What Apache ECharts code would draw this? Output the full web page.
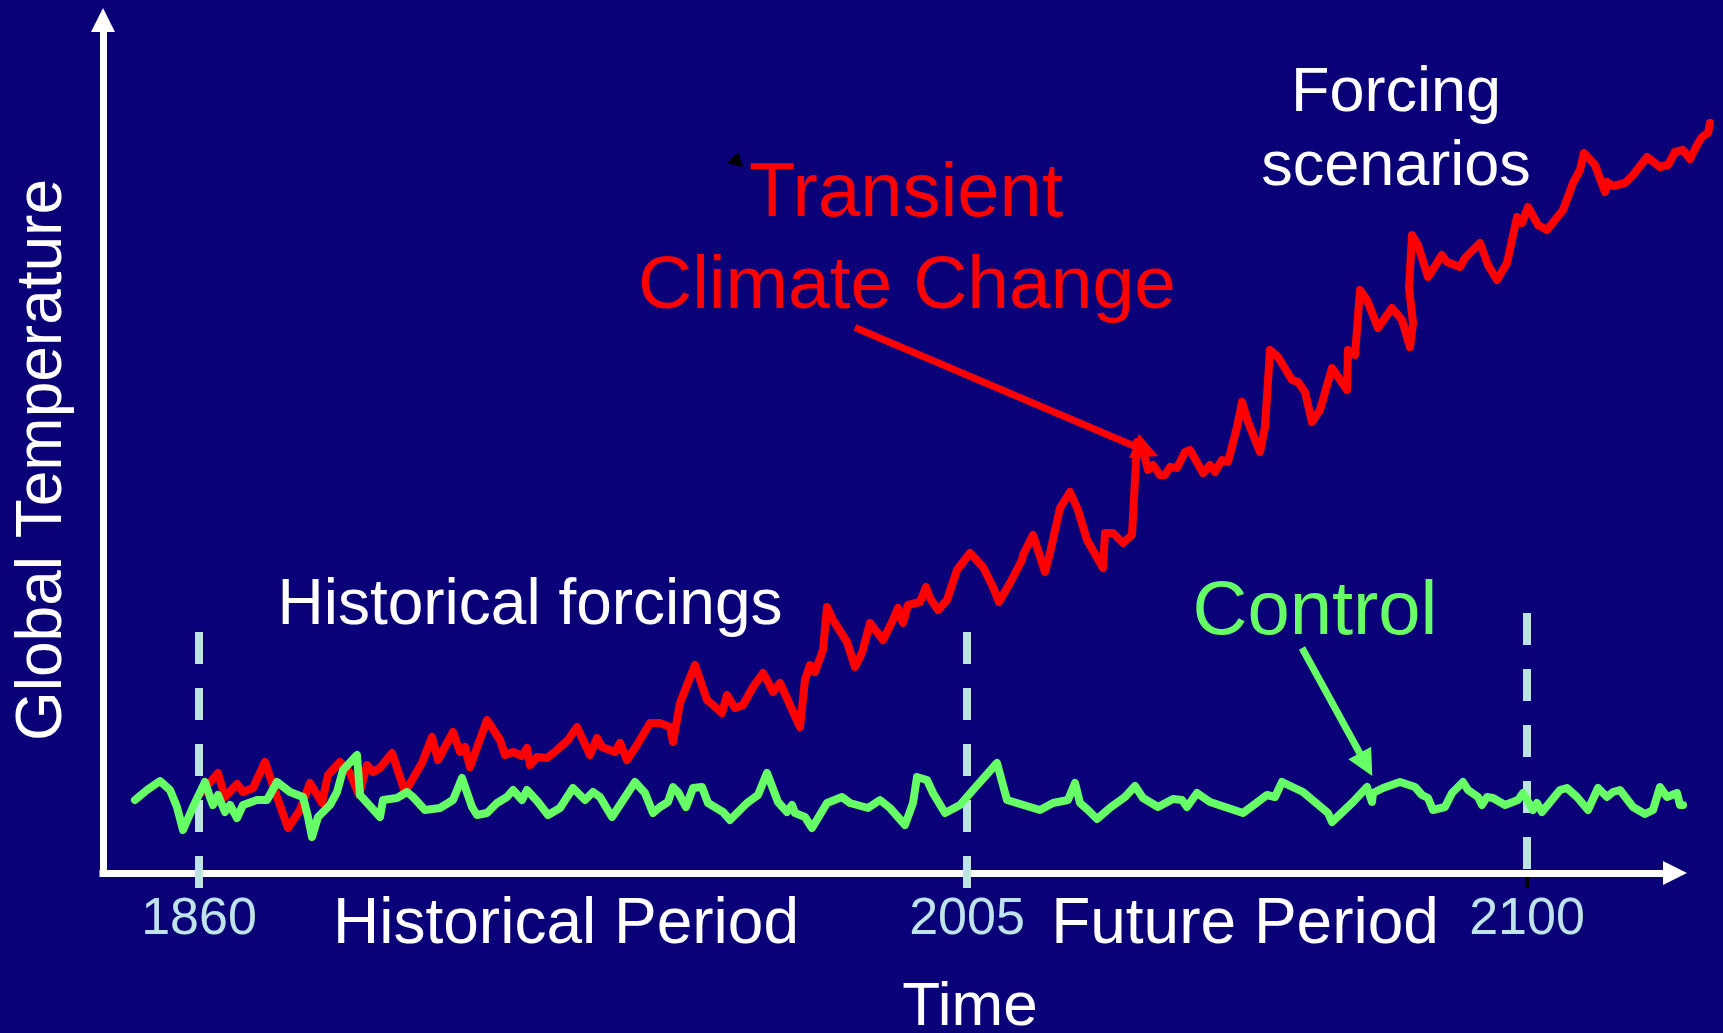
<!DOCTYPE html>
<html>
<head>
<meta charset="utf-8">
<script src="https://cdn.jsdelivr.net/npm/echarts@6/dist/echarts.min.js"></script>
<style>
  html, body { margin: 0; padding: 0; background: #0a0078; }
  #chart { width: 1723px; height: 1033px; }
</style>
</head>
<body>
<div id="chart"></div>
<script>
// time steps (arbitrary schematic units) and global temperature (arbitrary units)
var redTime = [98,115,122,134,140,150,162,174,185,197,207,219,225,237,247,256,264,270,277,289,
  302,319,329,335,350,357,362,367,384,397,402,410,419,424,427,434,444,454,465,474,
  487,494,499,512,517,524,534,547,557,567,570,577,592,604,610,619,624,632,640,650,
  660,665,670,677,697,702,707,712,720,724,730,744,752,759,767,780,789,795,800,805,
  817,823,827,835,844,854,867,880,890,896,907,919,920,930,942,947,957,967,975,984,
  1000,1002,1010,1020,1029,1034,1039,1045,1050,1057,1062,1067,1074,1082,1087,1100,1107,1112,1119,1125,
  1134,1139,1145,1157,1162,1167,1175,1189,1195,1202,1209,1217,1229,1244,1245,1252,1257,1264,1275,1289,
  1299,1307,1310,1306,1309,1315,1325,1339,1344,1357,1362,1377,1385,1394,1404,1414,1419,1425,1435,1444,
  1460,1470,1477,1481,1492,1502,1504,1510,1522,1530,1544,1557,1565,1572,1580,1587,1594,1599,1605,1607];
var redTemp = [0.80,1.00,0.76,0.89,0.81,0.85,1.11,0.76,0.45,0.63,0.90,0.70,0.98,1.11,1.00,0.78,1.08,1.01,1.05,1.20,
  0.81,1.10,1.36,1.13,1.41,1.21,1.26,1.06,1.53,1.33,1.18,1.21,1.17,1.25,1.08,1.16,1.15,1.23,1.33,1.46,
  1.18,1.35,1.26,1.21,1.30,1.13,1.28,1.50,1.50,1.46,1.31,1.70,2.08,1.73,1.68,1.60,1.78,1.65,1.68,1.86,
  2.00,1.91,1.81,1.90,1.46,1.93,2.08,2.01,2.23,2.66,2.53,2.31,2.06,2.20,2.50,2.33,2.51,2.65,2.50,2.68,
  2.71,2.86,2.75,2.63,2.73,3.03,3.20,3.06,2.86,2.71,2.90,3.13,3.18,3.38,3.01,3.20,3.65,3.81,3.63,3.33,
  3.05,3.40,3.40,3.30,3.38,4.31,4.26,4.03,4.08,3.98,3.98,4.06,4.05,4.21,4.23,4.00,4.08,4.01,4.13,4.11,
  4.46,4.71,4.51,4.21,4.46,5.23,5.16,4.93,4.91,4.81,4.51,4.63,5.05,4.83,5.23,5.18,5.83,5.73,5.45,5.65,
  5.53,5.26,5.50,5.85,6.38,6.28,5.96,6.18,6.11,6.06,6.15,6.30,6.08,5.93,6.10,6.56,6.50,6.66,6.48,6.43,
  6.63,6.90,7.03,7.20,7.08,6.81,6.91,6.87,6.90,6.98,7.16,7.06,7.08,7.21,7.23,7.14,7.28,7.36,7.40,7.50];

var greenTime = [32,44,57,67,74,80,90,102,107,110,115,122,127,134,140,154,164,174,187,200,
  205,209,215,227,234,240,254,257,277,280,294,304,310,322,337,350,359,369,374,384,
  394,404,410,419,424,435,445,457,470,482,490,497,509,532,542,550,557,565,570,575,
  583,590,599,605,620,627,644,655,664,675,684,689,692,702,709,724,739,747,765,777,
  787,802,810,814,824,830,842,857,870,894,904,927,937,950,965,972,977,985,994,1008,
  1022,1032,1040,1055,1070,1079,1084,1094,1107,1140,1164,1172,1179,1200,1225,1229,1250,1264,1269,1270,
  1280,1297,1312,1319,1325,1330,1342,1349,1360,1365,1375,1379,1384,1390,1402,1415,1420,1430,1434,1439,
  1457,1464,1474,1485,1495,1504,1510,1517,1530,1542,1550,1557,1564,1574,1577,1580];
var greenTemp = [0.73,0.83,0.92,0.83,0.66,0.43,0.66,0.91,0.76,0.68,0.78,0.61,0.68,0.55,0.68,0.73,0.73,0.91,0.81,0.76,
  0.56,0.36,0.56,0.68,0.81,1.03,1.18,0.78,0.56,0.73,0.75,0.81,0.76,0.63,0.65,0.73,0.95,0.66,0.58,0.60,
  0.70,0.76,0.83,0.73,0.83,0.71,0.58,0.65,0.85,0.73,0.81,0.76,0.56,0.91,0.80,0.60,0.66,0.71,0.86,0.81,
  0.66,0.85,0.86,0.70,0.61,0.53,0.70,0.78,1.00,0.71,0.61,0.68,0.60,0.56,0.45,0.70,0.76,0.70,0.65,0.73,
  0.65,0.48,0.70,0.96,0.93,0.80,0.60,0.68,0.83,1.10,0.73,0.66,0.63,0.70,0.73,0.90,0.70,0.63,0.54,0.66,
  0.76,0.87,0.75,0.66,0.74,0.73,0.66,0.80,0.71,0.60,0.78,0.76,0.91,0.81,0.60,0.51,0.71,0.86,0.71,0.80,
  0.85,0.91,0.86,0.78,0.75,0.63,0.66,0.80,0.91,0.83,0.76,0.68,0.76,0.75,0.68,0.73,0.80,0.63,0.70,0.61,
  0.83,0.85,0.76,0.63,0.85,0.76,0.81,0.83,0.66,0.59,0.63,0.86,0.76,0.80,0.68,0.68];

// period markers
var yearTicks = [96, 864, 1424];
var yearLabels = ['1860', '2005', '2100'];
var markerTop = [2.41, 2.41, 2.60];
var markerBottom = [-0.15, -0.15, 0.04];

// annotation arrows [from, to]
var redArrow = [[752, 5.455], [1043, 4.22]];
var greenArrow = [[1199, 2.25], [1263, 1.085]];

var FONT = '"Liberation Sans", Arial, sans-serif';

function pairs(xs, ys) {
  return xs.map(function (x, i) { return [x, ys[i]]; });
}

function label(text, x, y, size, color, rotation) {
  return {
    type: 'text', x: x, y: y, rotation: rotation || 0, silent: true,
    style: {
      text: text, fill: color, font: size + 'px ' + FONT,
      textAlign: 'center', textVerticalAlign: 'middle'
    }
  };
}

function arrowMark(pts, color) {
  return {
    silent: true,
    symbol: ['none', 'triangle'],
    symbolSize: [26, 26],
    label: { show: false },
    lineStyle: { color: color, width: 7, type: 'solid' },
    emphasis: { disabled: true },
    data: [[{ coord: pts[0] }, { coord: pts[1] }]]
  };
}

// all marks live on the wide data grid (index 1), same unit scale as the visible axes
function onData(s) {
  s.xAxisIndex = 1;
  s.yAxisIndex = 1;
  return s;
}

var series = [];

// dashed period markers
yearTicks.forEach(function (t, i) {
  series.push(onData({
    type: 'line', symbol: 'none', silent: true, clip: false, z: 1,
    data: [[t, markerTop[i]], [t, markerBottom[i]]],
    lineStyle: { color: '#bde3e6', width: 8, type: [32, 24], cap: 'butt' }
  }));
});
// small black tick under the axis at 2100
series.push(onData({
  type: 'line', symbol: 'none', silent: true, clip: false, z: 1,
  data: [[yearTicks[2], -0.04], [yearTicks[2], -0.15]],
  lineStyle: { color: '#000000', width: 4 }
}));

series.push(onData({
  name: 'Transient', type: 'line', symbol: 'none', silent: true, clip: false, z: 3,
  data: pairs(redTime, redTemp),
  lineStyle: { color: '#ff0000', width: 8, join: 'round', cap: 'round' },
  markLine: arrowMark(redArrow, '#ff0000')
}));
series.push(onData({
  name: 'Control', type: 'line', symbol: 'none', silent: true, clip: false, z: 4,
  data: pairs(greenTime, greenTemp),
  lineStyle: { color: '#66ff66', width: 8, join: 'round', cap: 'round' },
  markLine: arrowMark(greenArrow, '#66ff66')
}));

var axisLine = {
  show: true,
  symbol: ['none', 'triangle'],
  symbolSize: [24, 24],
  lineStyle: { color: '#ffffff', width: 7, cap: 'square' }
};

var chart = echarts.init(document.getElementById('chart'));
chart.setOption({
  backgroundColor: '#0a0078',
  animation: false,
  grid: [
    { left: 103, right: 48, top: 20, bottom: 160, containLabel: false, outerBoundsMode: 'none' },
    { left: 103, right: 11, top: 20, bottom: 160, containLabel: false, outerBoundsMode: 'none' }
  ],
  xAxis: [{
    gridIndex: 0, type: 'value', min: 0, max: 1572,
    axisLine: axisLine,
    axisTick: { show: false },
    splitLine: { show: false },
    axisLabel: {
      show: true,
      customValues: yearTicks,
      formatter: function (v) { return yearLabels[yearTicks.indexOf(v)]; },
      color: '#bfe3ea', fontSize: 52, fontFamily: FONT,
      margin: 47, verticalAlign: 'middle'
    }
  }, {
    gridIndex: 1, type: 'value', min: 0, max: 1609, show: false
  }],
  yAxis: [{
    gridIndex: 0, type: 'value', min: 0, max: 8.53,
    axisLine: axisLine,
    axisTick: { show: false },
    splitLine: { show: false },
    axisLabel: { show: false }
  }, {
    gridIndex: 1, type: 'value', min: 0, max: 8.53, show: false
  }],
  series: series,
  graphic: [
    label('Global Temperature', 43, 460, 64, '#ffffff', Math.PI / 2),
    label('Time', 970, 1008, 62, '#ffffff'),
    label('Historical Period', 566, 925, 64, '#ffffff'),
    label('Future Period', 1245, 925, 64, '#ffffff'),
    label('Historical forcings', 530, 606, 64, '#ffffff'),
    label('Control', 1315, 613, 76, '#66ff66'),
    label('Transient', 906, 195, 76, '#ff0000'),
    label('Climate Change', 907, 287, 75, '#ff0000'),
    label('Forcing', 1396, 94, 63, '#ffffff'),
    label('scenarios', 1396, 168, 63, '#ffffff'),
    {
      type: 'polygon', silent: true,
      shape: { points: [[727, 163], [738, 152], [743, 167]] },
      style: { fill: '#000000' }
    }
  ]
});
</script>
</body>
</html>
